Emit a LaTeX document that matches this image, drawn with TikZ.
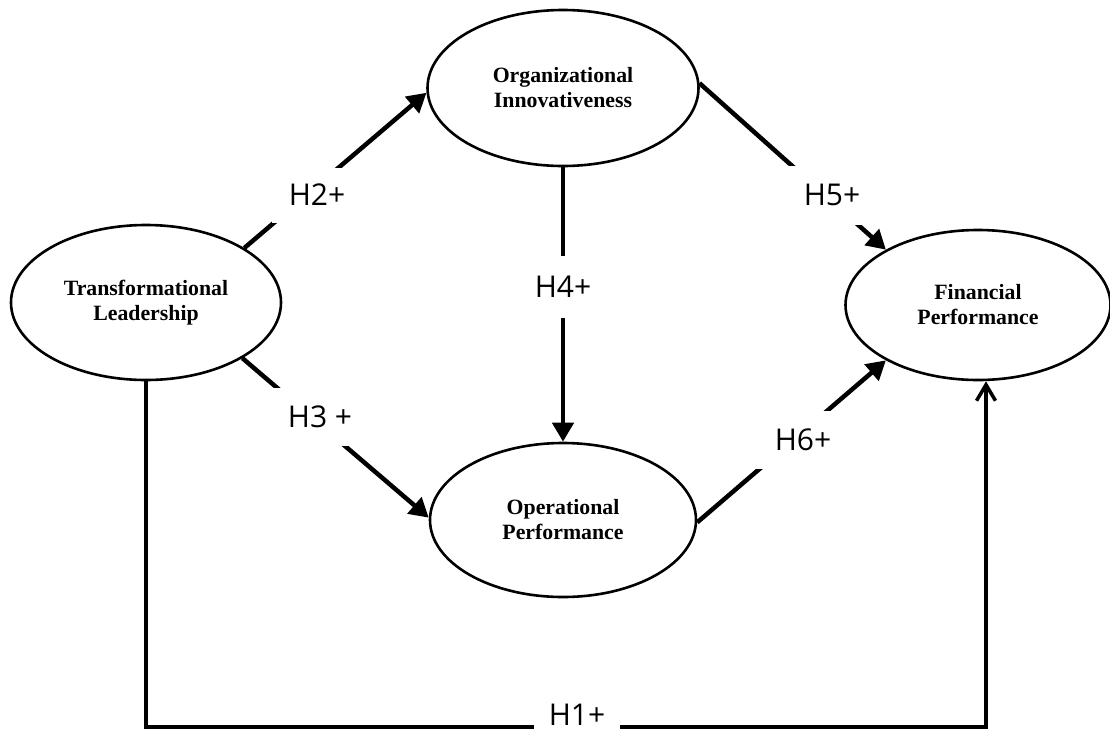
\documentclass[tikz,border=0pt]{standalone}
\usepackage{fontspec}
\setmainfont{Liberation Serif}
\newfontfamily\hypfont{Open Sans}
\usetikzlibrary{shapes.geometric,arrows.meta}
\begin{document}
\begin{tikzpicture}[x=1pt,y=-1pt,
  construct/.style={ellipse, draw, line width=2.6pt, inner sep=0pt, align=center,
    font=\fontsize{21.8}{25}\selectfont\bfseries},
  link/.style={line width=4.5pt, -{Triangle[length=19pt,width=21pt]}},
  directlink/.style={line width=4pt, line join=miter,
    -{Straight Barb[length=16pt,width=19pt,line width=3.5pt]}},
  hyp/.style={fill=white, inner sep=0pt, font=\hypfont\fontsize{30}{36}\selectfont}]

\useasboundingbox (0,0) rectangle (1110,734);

% constructs
\node[construct, minimum width=271pt, minimum height=156pt] (org) at (563,88)
  {Organizational\\Innovativeness};
\node[construct, minimum width=270pt, minimum height=155pt] (tl) at (146,302.5)
  {Transformational\\Leadership};
\node[construct, minimum width=265pt, minimum height=150pt] (fin) at (978,305)
  {Financial\\Performance};
\node[construct, minimum width=266pt, minimum height=154pt] (op) at (563,520)
  {Operational\\Performance};

% hypothesised paths
\draw[link] (tl.29) -- (org.182);
\draw[link] (tl.-30) -- (op.179);
\draw[link] (org.south) -- (op.north);
\draw[link] (org.2) -- (fin.149);
\draw[link] (op.-1) -- (fin.211);

\coordinate (corner) at (986,727);
\draw[directlink] (tl.south) |- (corner) -- (fin.south -| corner);

% hypothesis labels
\node[hyp, minimum width=90pt, minimum height=55pt] (h2) at (317,195) {H2+};
\node[hyp, minimum width=100pt, minimum height=58pt] (h3) at (320,417) {H3 +};
\node[hyp, minimum width=80pt, minimum height=62pt] (h4) at (563,287) {H4+};
\node[hyp, minimum width=90pt, minimum height=59pt] (h5) at (832,195) {H5+};
\node[hyp, minimum width=100pt, minimum height=58pt] (h6) at (803,440) {H6+};
\node[hyp, minimum width=86pt, minimum height=31pt] (h1) at (577,715) {H1+};
\end{tikzpicture}
\end{document}
